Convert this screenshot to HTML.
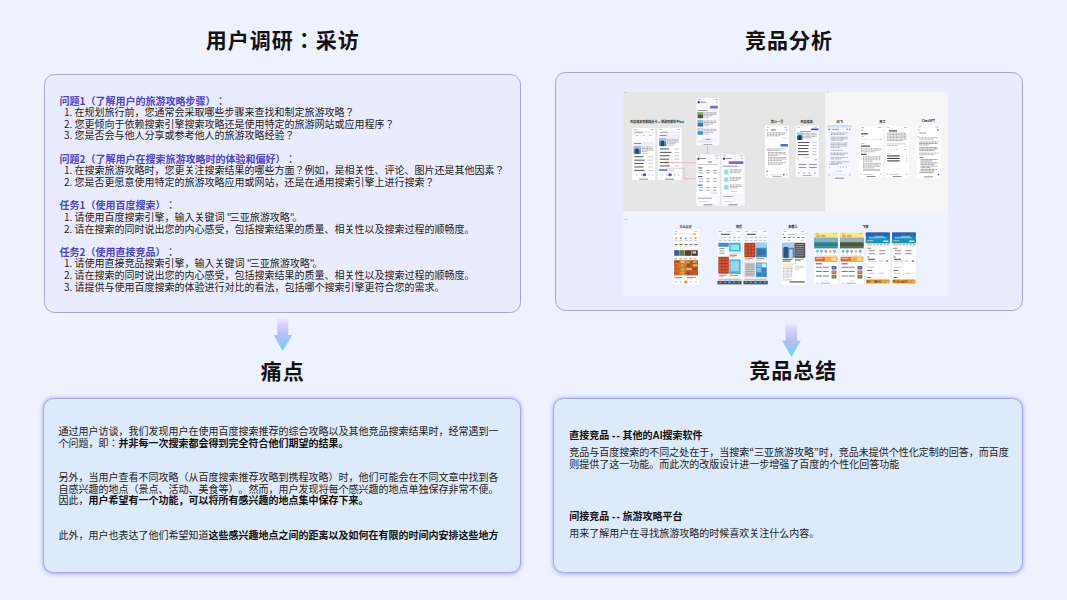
<!DOCTYPE html>
<html>
<head>
<meta charset="utf-8">
<title>用户调研与竞品分析</title>
<style>
html,body{margin:0;padding:0;}
body{width:1067px;height:600px;overflow:hidden;position:relative;background:#eef2fe;
  font-family:"Liberation Sans","Noto Sans CJK JP",sans-serif;color:#111;text-spacing-trim:space-all;}
.abs{position:absolute;}
.title{position:absolute;font-weight:700;font-size:21px;letter-spacing:1px;line-height:32px;color:#111;white-space:nowrap;text-align:center;}
.card{position:absolute;box-sizing:border-box;border-radius:10.5px;}
.card.top{background:#e9ecfe;border:1.5px solid #a6a5d9;}
.card.bot{background:#ddeafb;border:1.5px solid #a6a6ea;box-shadow:0 .5px 4.5px 0 rgba(125,115,245,.62);}
.q{position:absolute;left:59.5px;font-family:"Noto Sans CJK JP",sans-serif;font-size:10px;line-height:11.65px;white-space:nowrap;color:#1c1c1c;}
.q b{color:#4b43cc;font-weight:700;display:block;}
.q span{display:block;padding-left:4.5px;}
.q i{font-style:normal;letter-spacing:-1.9px;}
.p{position:absolute;font-size:10px;line-height:11.6px;white-space:nowrap;color:#1c1c1c;}
.p b{font-weight:700;color:#111;}
.p s{text-decoration:none;font-family:"Noto Sans CJK JP",sans-serif;line-height:0;}
.p u{text-decoration:none;letter-spacing:1.1px;}
</style>
</head>
<body>

<div class="title" style="left:182.7px;width:200px;top:25.0px;">用户调研：采访</div>
<div class="title" style="left:688.9px;width:200px;top:25.0px;">竞品分析</div>

<div class="card top" style="left:44.3px;top:74.1px;width:477px;height:239.2px;"></div>
<div class="card top" style="left:555px;top:72.1px;width:468px;height:239.2px;"></div>

<div class="q" style="top:94.5px;"><b>问题1（了解用户的旅游攻略步骤）：</b><span>1. 在规划旅行前，您通常会采取哪些步骤来查找和制定旅游攻略？</span><span>2. 您更倾向于依赖搜索引擎搜索攻略还是使用特定的旅游网站或应用程序？</span><span>3. 您是否会与他人分享或参考他人的旅游攻略经验？</span></div>
<div class="q" style="top:152.7px;"><b>问题2（了解用户在搜索旅游攻略时的体验和偏好）：</b><span>1. 在搜索旅游攻略时，您更关注搜索结果的哪些方面？例如，是相关性、评论、图片还是其他因素？</span><span>2. 您是否更愿意使用特定的旅游攻略应用或网站，还是在通用搜索引擎上进行搜索？</span></div>
<div class="q" style="top:199.4px;"><b>任务1（使用百度搜索）：</b><span>1. 请使用百度搜索引擎，输入关键词 <i>&quot;</i>三亚旅游攻略<i>&quot;</i>。</span><span>2. 请在搜索的同时说出您的内心感受，包括搜索结果的质量、相关性以及搜索过程的顺畅度。</span></div>
<div class="q" style="top:245.8px;"><b>任务2（使用直接竞品）：</b><span>1. 请使用直接竞品搜索引擎，输入关键词 <i>&quot;</i>三亚旅游攻略<i>&quot;</i>。</span><span>2. 请在搜索的同时说出您的内心感受，包括搜索结果的质量、相关性以及搜索过程的顺畅度。</span><span>3. 请提供与使用百度搜索的体验进行对比的看法，包括哪个搜索引擎更符合您的需求。</span></div>

<svg class="abs" style="left:623px;top:91px;" width="326" height="206" viewBox="623 91 326 206" font-family="'Liberation Sans','Noto Sans CJK JP',sans-serif">
<rect x="623.5" y="91.7" width="201.8" height="119.8" fill="#e6e6e6"/>
<rect x="825.3" y="91.7" width="122.6" height="119.8" fill="#f6f6f6"/>
<rect x="623.2" y="211.4" width="324.6" height="5.6" fill="#f1f4fe"/>
<rect x="623.2" y="217.0" width="324.6" height="79.0" fill="#eef2fe"/>
<rect x="624.3" y="92.3" width="2.5" height="0.5" fill="#888" opacity="0.6"/>
<rect x="826.3" y="92.3" width="2.5" height="0.5" fill="#888" opacity="0.6"/>
<rect x="624.3" y="219.2" width="3.8" height="0.5" fill="#778" opacity="0.6"/>
<text x="657.0" y="123.3" font-size="3.05" font-weight="700" fill="#222" text-anchor="middle">百度搜索智能精选卡 + 旅游智能助手bot</text>
<rect x="632.1" y="128.0" width="23.2" height="52.0" fill="#fdfdff" rx="0.8"/>
<rect x="633.6" y="129.2" width="3.0" height="0.6" fill="#666" opacity="0.6"/>
<rect x="650.3" y="129.2" width="3.5" height="0.6" fill="#666" opacity="0.6"/>
<rect x="639.2" y="178.7" width="9.0" height="0.7" fill="#444" rx="0.3" opacity="0.8"/>
<rect x="633.6" y="131.2" width="20.2" height="2.2" fill="#f0f1f6" rx="1"/>
<rect x="634.6" y="131.9" width="8.0" height="0.7" fill="#555" opacity="0.7"/>
<rect x="636.1" y="135.0" width="2.2" height="1.0" fill="#888" opacity="0.5"/>
<rect x="642.6" y="135.0" width="2.2" height="1.0" fill="#888" opacity="0.5"/>
<rect x="649.1" y="135.0" width="2.2" height="1.0" fill="#888" opacity="0.5"/>
<rect x="633.3" y="142.1" width="20.8" height="3.4" fill="#eeeefc" rx="0.6"/>
<rect x="634.1" y="143.0" width="7.0" height="0.7" fill="#444" opacity="0.8"/>
<rect x="633.6" y="146.3" width="7.2" height="7.6" fill="#5d86b5"/>
<rect x="633.6" y="146.3" width="7.2" height="3.0" fill="#9cc3ea"/>
<rect x="635.3" y="148.5" width="3.2" height="5.4" fill="#2f4664"/>
<path d="M641.7 146.95h10.9M641.7 148.50h10.7M641.7 150.05h11.3M641.7 151.60h5.6" stroke="#333" stroke-width="0.7" stroke-dasharray="1.17 0.37 0.62 0.40" opacity="0.66" fill="none"/>
<rect x="641.7" y="152.9" width="6.0" height="0.6" fill="#999" opacity="0.7"/>
<rect x="634.3" y="156.3" width="9.1" height="0.9" fill="#222" opacity="0.85"/>
<rect x="648.3" y="156.4" width="4.5" height="0.7" fill="#888" opacity="0.6"/>
<rect x="634.3" y="159.7" width="10.3" height="0.9" fill="#222" opacity="0.85"/>
<rect x="648.3" y="159.8" width="4.5" height="0.7" fill="#888" opacity="0.6"/>
<rect x="634.3" y="163.1" width="9.2" height="0.9" fill="#222" opacity="0.85"/>
<rect x="648.3" y="163.2" width="4.5" height="0.7" fill="#888" opacity="0.6"/>
<rect x="634.3" y="166.5" width="9.3" height="0.9" fill="#222" opacity="0.85"/>
<rect x="648.3" y="166.6" width="4.5" height="0.7" fill="#888" opacity="0.6"/>
<rect x="634.3" y="169.9" width="10.3" height="0.9" fill="#222" opacity="0.85"/>
<rect x="648.3" y="170.0" width="4.5" height="0.7" fill="#888" opacity="0.6"/>
<rect x="636.0" y="174.3" width="1.2" height="1.2" fill="#999" opacity="0.6"/>
<rect x="641.0" y="174.3" width="1.2" height="1.2" fill="#999" opacity="0.6"/>
<rect x="642.6" y="173.3" width="3.6" height="3.0" fill="#4e5bd8" rx="1.5"/>
<rect x="648.5" y="174.3" width="1.2" height="1.2" fill="#999" opacity="0.6"/>
<rect x="652.0" y="174.3" width="1.2" height="1.2" fill="#999" opacity="0.6"/>
<rect x="657.6" y="128.0" width="24.0" height="52.0" fill="#fdfdff" rx="0.8"/>
<rect x="659.1" y="129.2" width="3.0" height="0.6" fill="#666" opacity="0.6"/>
<rect x="676.6" y="129.2" width="3.5" height="0.6" fill="#666" opacity="0.6"/>
<rect x="665.1" y="178.7" width="9.0" height="0.7" fill="#444" rx="0.3" opacity="0.8"/>
<rect x="659.1" y="131.2" width="21.0" height="2.2" fill="#f0f1f6" rx="1"/>
<rect x="660.1" y="131.9" width="8.0" height="0.7" fill="#555" opacity="0.7"/>
<rect x="661.6" y="135.0" width="2.2" height="1.0" fill="#888" opacity="0.5"/>
<rect x="668.1" y="135.0" width="2.2" height="1.0" fill="#888" opacity="0.5"/>
<rect x="674.6" y="135.0" width="2.2" height="1.0" fill="#888" opacity="0.5"/>
<rect x="658.8" y="134.3" width="21.6" height="3.4" fill="#eeeefc" rx="0.6"/>
<rect x="659.6" y="135.2" width="7.0" height="0.7" fill="#444" opacity="0.8"/>
<rect x="659.1" y="138.5" width="7.2" height="7.6" fill="#5d86b5"/>
<rect x="659.1" y="138.5" width="7.2" height="3.0" fill="#9cc3ea"/>
<rect x="660.8" y="140.7" width="3.2" height="5.4" fill="#2f4664"/>
<path d="M667.2 139.15h12.3M667.2 140.70h11.4M667.2 142.25h11.5M667.2 143.80h8.4" stroke="#333" stroke-width="0.7" stroke-dasharray="1.37 0.42 0.76 0.50" opacity="0.66" fill="none"/>
<rect x="667.2" y="145.1" width="6.0" height="0.6" fill="#999" opacity="0.7"/>
<rect x="659.8" y="148.5" width="9.1" height="0.9" fill="#222" opacity="0.85"/>
<rect x="674.6" y="148.6" width="4.5" height="0.7" fill="#888" opacity="0.6"/>
<rect x="659.8" y="151.9" width="11.6" height="0.9" fill="#222" opacity="0.85"/>
<rect x="674.6" y="152.0" width="4.5" height="0.7" fill="#888" opacity="0.6"/>
<rect x="659.8" y="155.3" width="9.9" height="0.9" fill="#222" opacity="0.85"/>
<rect x="674.6" y="155.4" width="4.5" height="0.7" fill="#888" opacity="0.6"/>
<rect x="659.8" y="158.7" width="9.4" height="0.9" fill="#222" opacity="0.85"/>
<rect x="674.6" y="158.8" width="4.5" height="0.7" fill="#888" opacity="0.6"/>
<rect x="659.8" y="162.1" width="9.4" height="0.9" fill="#222" opacity="0.85"/>
<rect x="674.6" y="162.2" width="4.5" height="0.7" fill="#888" opacity="0.6"/>
<rect x="659.8" y="165.5" width="9.9" height="0.9" fill="#222" opacity="0.85"/>
<rect x="674.6" y="165.6" width="4.5" height="0.7" fill="#888" opacity="0.6"/>
<rect x="659.0" y="169.2" width="8.5" height="1.6" fill="#5b63dd" rx="0.5"/>
<rect x="668.2" y="169.2" width="6.0" height="1.6" fill="#d9dcf8" rx="0.5"/>
<rect x="661.5" y="174.3" width="1.2" height="1.2" fill="#999" opacity="0.6"/>
<rect x="666.0" y="174.3" width="1.2" height="1.2" fill="#999" opacity="0.6"/>
<rect x="668.2" y="173.3" width="3.6" height="3.0" fill="#4e5bd8" rx="1.5"/>
<rect x="674.0" y="174.3" width="1.2" height="1.2" fill="#999" opacity="0.6"/>
<rect x="678.0" y="174.3" width="1.2" height="1.2" fill="#999" opacity="0.6"/>
<path d="M668 162.6 H671.5 L673 161.4 V163.8 L671.5 162.6 M673 162.6 H707.6 V145.4" fill="none" stroke="#e58aa6" stroke-width="0.45"/>
<path d="M666 168.2 H684.2 V178.8 H696" fill="none" stroke="#e58aa6" stroke-width="0.45"/>
<rect x="665.2" y="160.9" width="3.6" height="3.2" fill="none" rx="0.4" stroke="#e58aa6" stroke-width=".4"/>
<rect x="696.3" y="97.9" width="23.2" height="47.3" fill="#f7f7fe" rx="0.8"/>
<rect x="697.8" y="99.1" width="3.0" height="0.6" fill="#666" opacity="0.6"/>
<rect x="714.5" y="99.1" width="3.5" height="0.6" fill="#666" opacity="0.6"/>
<rect x="703.4" y="143.9" width="9.0" height="0.7" fill="#444" rx="0.3" opacity="0.8"/>
<rect x="697.7" y="101.2" width="2.0" height="2.0" fill="#2b3a55" rx="0.4"/>
<rect x="700.3" y="101.8" width="6.0" height="0.7" fill="#333" opacity="0.8"/>
<rect x="716.0" y="101.8" width="1.6" height="0.7" fill="#666" opacity="0.6"/>
<rect x="710.0" y="105.8" width="8.0" height="2.6" fill="#7a63e6" rx="1.2"/>
<rect x="697.5" y="110.2" width="10.0" height="0.7" fill="#444" opacity="0.7"/>
<rect x="697.6" y="112.0" width="5.6" height="6.2" fill="#4a5a35"/>
<rect x="697.6" y="112.0" width="5.6" height="2.6" fill="#9ab36a"/>
<path d="M704.2 112.75h12.8M704.2 114.25h11.9M704.2 115.75h8.5" stroke="#333" stroke-width="0.7" stroke-dasharray="1.22 0.37 0.82 0.31" opacity="0.61" fill="none"/>
<rect x="704.2" y="117.2" width="5.0" height="0.6" fill="#999" opacity="0.7"/>
<rect x="697.6" y="120.3" width="5.6" height="6.2" fill="#3f7aa8"/>
<rect x="697.6" y="120.3" width="5.6" height="2.6" fill="#8cc2e8"/>
<path d="M704.2 121.05h11.8M704.2 122.55h12.0M704.2 124.05h8.9" stroke="#333" stroke-width="0.7" stroke-dasharray="1.11 0.36 0.83 0.39" opacity="0.61" fill="none"/>
<rect x="704.2" y="125.5" width="5.0" height="0.6" fill="#999" opacity="0.7"/>
<rect x="697.6" y="128.6" width="5.6" height="6.2" fill="#4f8ec4"/>
<rect x="697.6" y="128.6" width="5.6" height="2.6" fill="#bcdcf3"/>
<path d="M704.2 129.35h12.1M704.2 130.85h12.7M704.2 132.35h9.0" stroke="#333" stroke-width="0.7" stroke-dasharray="1.02 0.41 0.81 0.48" opacity="0.61" fill="none"/>
<rect x="704.2" y="133.8" width="5.0" height="0.6" fill="#999" opacity="0.7"/>
<rect x="702.0" y="138.2" width="12.0" height="2.4" fill="#ecebfb" rx="1.1"/>
<rect x="705.5" y="139.0" width="5.0" height="0.7" fill="#6b63d8" opacity="0.8"/>
<rect x="698.0" y="141.6" width="14.0" height="0.6" fill="#aaa" opacity="0.6"/>
<rect x="696.0" y="154.4" width="24.0" height="51.4" fill="#f8f8fe" rx="0.8"/>
<rect x="697.5" y="155.6" width="3.0" height="0.6" fill="#666" opacity="0.6"/>
<rect x="715.0" y="155.6" width="3.5" height="0.6" fill="#666" opacity="0.6"/>
<rect x="703.5" y="204.5" width="9.0" height="0.7" fill="#444" rx="0.3" opacity="0.8"/>
<rect x="697.4" y="157.7" width="2.0" height="2.0" fill="#2b3a55" rx="0.4"/>
<rect x="700.0" y="158.3" width="6.0" height="0.7" fill="#333" opacity="0.8"/>
<rect x="716.5" y="158.3" width="1.6" height="0.7" fill="#666" opacity="0.6"/>
<rect x="697.2" y="160.8" width="21.6" height="34.0" fill="#ffffff" rx="0.6"/>
<rect x="708.0" y="161.6" width="4.0" height="0.8" fill="#333" opacity="0.8"/>
<rect x="698.0" y="164.2" width="20.0" height="0.6" fill="#777" opacity="0.6"/>
<rect x="698.0" y="167.5" width="4.5" height="0.9" fill="#222" opacity="0.85"/>
<rect x="698.6" y="169.6" width="4.6" height="1.5" fill="#e8ecfb" rx="0.4"/>
<rect x="699.4" y="170.0" width="3.0" height="0.6" fill="#556" opacity="0.7"/>
<rect x="705.6" y="169.6" width="4.6" height="1.5" fill="#e8ecfb" rx="0.4"/>
<rect x="706.4" y="170.0" width="3.0" height="0.6" fill="#556" opacity="0.7"/>
<rect x="712.6" y="169.6" width="4.6" height="1.5" fill="#e8ecfb" rx="0.4"/>
<rect x="713.4" y="170.0" width="3.0" height="0.6" fill="#556" opacity="0.7"/>
<rect x="698.6" y="172.3" width="4.6" height="1.5" fill="#e8ecfb" rx="0.4"/>
<rect x="699.4" y="172.7" width="3.0" height="0.6" fill="#556" opacity="0.7"/>
<rect x="705.6" y="172.3" width="4.6" height="1.5" fill="#e8ecfb" rx="0.4"/>
<rect x="706.4" y="172.7" width="3.0" height="0.6" fill="#556" opacity="0.7"/>
<rect x="712.6" y="172.3" width="4.6" height="1.5" fill="#e8ecfb" rx="0.4"/>
<rect x="713.4" y="172.7" width="3.0" height="0.6" fill="#556" opacity="0.7"/>
<rect x="698.0" y="176.1" width="4.5" height="0.9" fill="#222" opacity="0.85"/>
<rect x="698.6" y="178.2" width="4.6" height="1.5" fill="#e8ecfb" rx="0.4"/>
<rect x="699.4" y="178.6" width="3.0" height="0.6" fill="#556" opacity="0.7"/>
<rect x="705.6" y="178.2" width="4.6" height="1.5" fill="#e8ecfb" rx="0.4"/>
<rect x="706.4" y="178.6" width="3.0" height="0.6" fill="#556" opacity="0.7"/>
<rect x="712.6" y="178.2" width="4.6" height="1.5" fill="#e8ecfb" rx="0.4"/>
<rect x="713.4" y="178.6" width="3.0" height="0.6" fill="#556" opacity="0.7"/>
<rect x="698.6" y="180.9" width="4.6" height="1.5" fill="#e8ecfb" rx="0.4"/>
<rect x="699.4" y="181.3" width="3.0" height="0.6" fill="#556" opacity="0.7"/>
<rect x="705.6" y="180.9" width="4.6" height="1.5" fill="#e8ecfb" rx="0.4"/>
<rect x="706.4" y="181.3" width="3.0" height="0.6" fill="#556" opacity="0.7"/>
<rect x="712.6" y="180.9" width="4.6" height="1.5" fill="#e8ecfb" rx="0.4"/>
<rect x="713.4" y="181.3" width="3.0" height="0.6" fill="#556" opacity="0.7"/>
<rect x="698.0" y="184.7" width="4.5" height="0.9" fill="#222" opacity="0.85"/>
<rect x="698.6" y="186.8" width="4.6" height="1.5" fill="#e8ecfb" rx="0.4"/>
<rect x="699.4" y="187.2" width="3.0" height="0.6" fill="#556" opacity="0.7"/>
<rect x="705.6" y="186.8" width="4.6" height="1.5" fill="#e8ecfb" rx="0.4"/>
<rect x="706.4" y="187.2" width="3.0" height="0.6" fill="#556" opacity="0.7"/>
<rect x="712.6" y="186.8" width="4.6" height="1.5" fill="#e8ecfb" rx="0.4"/>
<rect x="713.4" y="187.2" width="3.0" height="0.6" fill="#556" opacity="0.7"/>
<rect x="698.6" y="189.5" width="4.6" height="1.5" fill="#e8ecfb" rx="0.4"/>
<rect x="699.4" y="189.9" width="3.0" height="0.6" fill="#556" opacity="0.7"/>
<rect x="705.6" y="189.5" width="4.6" height="1.5" fill="#e8ecfb" rx="0.4"/>
<rect x="706.4" y="189.9" width="3.0" height="0.6" fill="#556" opacity="0.7"/>
<rect x="712.6" y="189.5" width="4.6" height="1.5" fill="#e8ecfb" rx="0.4"/>
<rect x="713.4" y="189.9" width="3.0" height="0.6" fill="#556" opacity="0.7"/>
<rect x="711.0" y="192.2" width="7.0" height="1.8" fill="#e3e0fb" rx="0.8"/>
<rect x="698.0" y="197.8" width="14.0" height="0.7" fill="#555" opacity="0.7"/>
<rect x="697.5" y="200.6" width="21.0" height="2.2" fill="#ffffff" rx="1"/>
<rect x="699.0" y="201.4" width="9.0" height="0.6" fill="#aaa" opacity="0.7"/>
<rect x="721.5" y="154.4" width="23.3" height="51.4" fill="#f7f7fe" rx="0.8"/>
<rect x="723.0" y="155.6" width="3.0" height="0.6" fill="#666" opacity="0.6"/>
<rect x="739.8" y="155.6" width="3.5" height="0.6" fill="#666" opacity="0.6"/>
<rect x="728.6" y="204.5" width="9.0" height="0.7" fill="#444" rx="0.3" opacity="0.8"/>
<rect x="722.9" y="157.7" width="2.0" height="2.0" fill="#2b3a55" rx="0.4"/>
<rect x="725.5" y="158.3" width="6.0" height="0.7" fill="#333" opacity="0.8"/>
<rect x="741.3" y="158.3" width="1.6" height="0.7" fill="#666" opacity="0.6"/>
<rect x="728.5" y="161.2" width="15.0" height="2.8" fill="#7a63e6" rx="1.3"/>
<rect x="722.8" y="165.8" width="15.0" height="0.7" fill="#444" opacity="0.75"/>
<rect x="722.8" y="168.0" width="20.5" height="25.5" fill="#ffffff" rx="0.6"/>
<rect x="723.6" y="169.2" width="5.2" height="5.6" fill="#c9ecef"/>
<rect x="724.4" y="170.2" width="3.6" height="3.6" fill="#8fd3da" opacity="0.8"/>
<path d="M729.8 169.75h12.2M729.8 171.25h11.6M729.8 172.75h9.9" stroke="#333" stroke-width="0.7" stroke-dasharray="0.96 0.38 0.90 0.33" opacity="0.61" fill="none"/>
<rect x="723.6" y="176.8" width="5.2" height="5.6" fill="#c9ecef"/>
<rect x="724.4" y="177.8" width="3.6" height="3.6" fill="#8fd3da" opacity="0.8"/>
<path d="M729.8 177.35h11.9M729.8 178.85h11.3M729.8 180.35h8.5" stroke="#333" stroke-width="0.7" stroke-dasharray="1.28 0.41 0.95 0.36" opacity="0.61" fill="none"/>
<rect x="723.6" y="184.4" width="5.2" height="5.6" fill="#c9ecef"/>
<rect x="724.4" y="185.4" width="3.6" height="3.6" fill="#8fd3da" opacity="0.8"/>
<path d="M729.8 184.95h12.1M729.8 186.45h12.0M729.8 187.95h8.2" stroke="#333" stroke-width="0.7" stroke-dasharray="1.13 0.47 0.98 0.39" opacity="0.61" fill="none"/>
<rect x="731.0" y="191.2" width="6.0" height="0.7" fill="#888" opacity="0.6"/>
<rect x="723.0" y="196.0" width="10.0" height="0.7" fill="#666" opacity="0.7"/>
<rect x="723.0" y="200.6" width="20.5" height="2.2" fill="#ffffff" rx="1"/>
<rect x="724.5" y="201.4" width="9.0" height="0.6" fill="#aaa" opacity="0.7"/>
<text x="777.0" y="123.3" font-size="3.2" font-weight="700" fill="#222" text-anchor="middle">文心一言</text>
<rect x="765.0" y="125.7" width="24.0" height="52.0" fill="#fdfdff" rx="0.8"/>
<rect x="766.5" y="126.9" width="3.0" height="0.6" fill="#666" opacity="0.6"/>
<rect x="784.0" y="126.9" width="3.5" height="0.6" fill="#666" opacity="0.6"/>
<rect x="772.5" y="176.4" width="9.0" height="0.7" fill="#444" rx="0.3" opacity="0.8"/>
<rect x="766.5" y="129.6" width="1.2" height="1.0" fill="#555" opacity="0.7"/>
<rect x="771.0" y="129.5" width="5.0" height="0.9" fill="#333" opacity="0.8"/>
<rect x="786.0" y="129.6" width="1.4" height="1.0" fill="#555" opacity="0.7"/>
<path d="M766.8 132.75h18.8M766.8 134.30h17.7M766.8 135.85h13.6" stroke="#333" stroke-width="0.7" stroke-dasharray="1.22 0.50 0.93 0.36" opacity="0.61" fill="none"/>
<rect x="782.0" y="137.6" width="5.0" height="0.6" fill="#aaa" opacity="0.6"/>
<rect x="780.4" y="144.0" width="7.6" height="2.6" fill="#4f63e6" rx="0.8"/>
<path d="M766.8 148.95h18.8M766.8 150.45h13.7" stroke="#333" stroke-width="0.7" stroke-dasharray="0.91 0.39 0.67 0.32" opacity="0.61" fill="none"/>
<path d="M768.0 152.55h17.2M768.0 154.05h18.6M768.0 155.55h9.4" stroke="#333" stroke-width="0.7" stroke-dasharray="1.02 0.38 0.95 0.32" opacity="0.61" fill="none"/>
<path d="M768.0 157.55h18.0M768.0 159.05h18.1M768.0 160.55h14.4" stroke="#333" stroke-width="0.7" stroke-dasharray="1.31 0.47 0.71 0.38" opacity="0.61" fill="none"/>
<path d="M768.0 162.75h17.8M768.0 164.25h14.4" stroke="#333" stroke-width="0.7" stroke-dasharray="1.38 0.33 0.67 0.35" opacity="0.61" fill="none"/>
<rect x="766.2" y="170.6" width="1.8" height="1.5" fill="#e660a8" rx="0.5"/>
<rect x="766.4" y="174.3" width="1.2" height="1.0" fill="#777" opacity="0.6"/>
<rect x="769.5" y="174.2" width="10.0" height="1.2" fill="#e4e4ea" rx="0.6"/>
<rect x="783.0" y="174.2" width="1.6" height="1.2" fill="#333" opacity="0.8"/>
<rect x="786.3" y="174.3" width="1.2" height="1.0" fill="#777" opacity="0.6"/>
<text x="806.5" y="123.3" font-size="3.2" font-weight="700" fill="#222" text-anchor="middle">百度搜索</text>
<rect x="795.7" y="125.7" width="23.0" height="51.0" fill="#fdfdff" rx="0.8"/>
<rect x="797.2" y="126.9" width="3.0" height="0.6" fill="#666" opacity="0.6"/>
<rect x="813.7" y="126.9" width="3.5" height="0.6" fill="#666" opacity="0.6"/>
<rect x="802.7" y="175.4" width="9.0" height="0.7" fill="#444" rx="0.3" opacity="0.8"/>
<rect x="811.0" y="128.6" width="7.5" height="1.6" fill="#3b59d9" rx="0.2"/>
<rect x="800.0" y="131.3" width="11.0" height="0.7" fill="#555" opacity="0.7"/>
<rect x="797.0" y="132.8" width="5.6" height="7.2" fill="#3f6ea5"/>
<rect x="797.0" y="132.8" width="5.6" height="2.8" fill="#9ec8ee"/>
<rect x="798.6" y="135.2" width="2.4" height="4.8" fill="#1f3350"/>
<path d="M803.4 133.35h12.9M803.4 134.85h13.3M803.4 136.35h13.4M803.4 137.85h7.6" stroke="#333" stroke-width="0.7" stroke-dasharray="0.90 0.38 0.75 0.41" opacity="0.66" fill="none"/>
<rect x="798.0" y="142.0" width="11.4" height="0.9" fill="#222" opacity="0.85"/>
<rect x="812.5" y="142.1" width="4.0" height="0.7" fill="#888" opacity="0.6"/>
<rect x="798.0" y="145.1" width="10.7" height="0.9" fill="#222" opacity="0.85"/>
<rect x="812.5" y="145.2" width="4.0" height="0.7" fill="#888" opacity="0.6"/>
<rect x="798.0" y="148.1" width="10.3" height="0.9" fill="#222" opacity="0.85"/>
<rect x="812.5" y="148.2" width="4.0" height="0.7" fill="#888" opacity="0.6"/>
<rect x="798.0" y="151.2" width="10.5" height="0.9" fill="#222" opacity="0.85"/>
<rect x="812.5" y="151.2" width="4.0" height="0.7" fill="#888" opacity="0.6"/>
<rect x="798.0" y="154.2" width="10.7" height="0.9" fill="#222" opacity="0.85"/>
<rect x="812.5" y="154.3" width="4.0" height="0.7" fill="#888" opacity="0.6"/>
<rect x="803.0" y="157.2" width="7.0" height="0.6" fill="#aaa" opacity="0.7"/>
<rect x="797.5" y="159.2" width="1.2" height="1.0" fill="#888" opacity="0.6"/>
<rect x="814.0" y="159.2" width="3.0" height="1.0" fill="#888" opacity="0.5"/>
<rect x="797.6" y="163.5" width="9.5" height="1.9" fill="#eef0f8" rx="0.4"/>
<rect x="808.2" y="163.5" width="9.5" height="1.9" fill="#eef0f8" rx="0.4"/>
<rect x="798.6" y="164.1" width="7.5" height="0.7" fill="#445" opacity="0.75"/>
<rect x="809.2" y="164.1" width="7.5" height="0.7" fill="#445" opacity="0.75"/>
<rect x="797.6" y="166.4" width="9.5" height="1.9" fill="#eef0f8" rx="0.4"/>
<rect x="808.2" y="166.4" width="9.5" height="1.9" fill="#eef0f8" rx="0.4"/>
<rect x="798.6" y="167.0" width="7.5" height="0.7" fill="#445" opacity="0.75"/>
<rect x="809.2" y="167.0" width="7.5" height="0.7" fill="#445" opacity="0.75"/>
<rect x="798.0" y="172.5" width="1.4" height="1.2" fill="#667" opacity="0.7"/>
<rect x="803.4" y="172.5" width="1.4" height="1.2" fill="#667" opacity="0.7"/>
<rect x="808.8" y="172.5" width="1.4" height="1.2" fill="#667" opacity="0.7"/>
<rect x="814.2" y="172.5" width="1.4" height="1.2" fill="#667" opacity="0.7"/>
<text x="839.8" y="123.0" font-size="3.2" font-weight="700" fill="#222" text-anchor="middle">讯飞</text>
<rect x="827.2" y="125.0" width="24.6" height="54.0" fill="#f4f7ff" rx="0.8"/>
<rect x="828.7" y="126.2" width="3.0" height="0.6" fill="#666" opacity="0.6"/>
<rect x="846.8" y="126.2" width="3.5" height="0.6" fill="#666" opacity="0.6"/>
<rect x="835.0" y="177.7" width="9.0" height="0.7" fill="#444" rx="0.3" opacity="0.8"/>
<rect x="827.2" y="125.0" width="24.6" height="2.4" fill="#d3dcfb" rx="0.6"/>
<rect x="828.4" y="128.6" width="1.6" height="1.4" fill="#4f63e6" opacity="0.8"/>
<rect x="832.0" y="128.9" width="7.0" height="0.8" fill="#556" opacity="0.7"/>
<rect x="846.5" y="128.7" width="1.3" height="1.2" fill="#556" opacity="0.7"/>
<rect x="849.0" y="128.7" width="1.3" height="1.2" fill="#556" opacity="0.7"/>
<path d="M830.8 132.95h16.7M830.8 134.45h14.1" stroke="#333" stroke-width="0.7" stroke-dasharray="1.29 0.47 0.92 0.38" opacity="0.61" fill="none"/>
<path d="M830.8 137.25h17.4M830.8 138.75h16.8M830.8 140.25h12.4" stroke="#333" stroke-width="0.7" stroke-dasharray="0.93 0.31 0.68 0.33" opacity="0.61" fill="none"/>
<path d="M830.8 143.05h17.3M830.8 144.55h16.7M830.8 146.05h16.7M830.8 147.55h9.3" stroke="#333" stroke-width="0.7" stroke-dasharray="0.95 0.37 0.61 0.47" opacity="0.61" fill="none"/>
<path d="M830.8 150.35h12.3" stroke="#333" stroke-width="0.7" stroke-dasharray="0.97 0.35 0.74 0.37" opacity="0.61" fill="none"/>
<path d="M830.8 153.15h16.9M830.8 154.65h13.8" stroke="#333" stroke-width="0.7" stroke-dasharray="1.40 0.39 0.79 0.32" opacity="0.61" fill="none"/>
<path d="M830.8 157.45h16.8M830.8 158.95h10.5" stroke="#333" stroke-width="0.7" stroke-dasharray="1.03 0.47 0.66 0.30" opacity="0.61" fill="none"/>
<path d="M830.8 161.75h18.4M830.8 163.25h11.7" stroke="#333" stroke-width="0.7" stroke-dasharray="0.97 0.41 0.61 0.41" opacity="0.61" fill="none"/>
<rect x="829.0" y="163.8" width="9.0" height="0.7" fill="#667" opacity="0.7"/>
<rect x="829.0" y="166.8" width="1.0" height="1.0" fill="#99a" opacity="0.6"/>
<rect x="840.0" y="166.8" width="1.0" height="1.0" fill="#99a" opacity="0.6"/>
<rect x="843.0" y="166.8" width="1.0" height="1.0" fill="#99a" opacity="0.6"/>
<rect x="846.0" y="166.8" width="1.0" height="1.0" fill="#99a" opacity="0.6"/>
<rect x="836.0" y="170.8" width="6.0" height="0.8" fill="#aab" opacity="0.6"/>
<rect x="828.5" y="174.2" width="1.3" height="1.2" fill="#889" opacity="0.6"/>
<rect x="832.0" y="174.2" width="14.0" height="1.3" fill="#e6ebfb" rx="0.6"/>
<rect x="849.0" y="174.2" width="1.3" height="1.2" fill="#889" opacity="0.6"/>
<text x="882.5" y="123.0" font-size="3.2" font-weight="700" fill="#222" text-anchor="middle">天工</text>
<rect x="859.5" y="126.0" width="23.3" height="51.5" fill="#ffffff" rx="0.8"/>
<rect x="861.0" y="127.2" width="3.0" height="0.6" fill="#666" opacity="0.6"/>
<rect x="877.8" y="127.2" width="3.5" height="0.6" fill="#666" opacity="0.6"/>
<rect x="866.6" y="176.2" width="9.0" height="0.7" fill="#444" rx="0.3" opacity="0.8"/>
<rect x="861.5" y="129.8" width="1.2" height="1.0" fill="#666" opacity="0.7"/>
<rect x="861.0" y="133.4" width="7.0" height="1.0" fill="#111" opacity="0.9"/>
<rect x="861.0" y="136.2" width="3.0" height="0.6" fill="#888" opacity="0.7"/>
<rect x="861.0" y="138.6" width="8.5" height="1.4" fill="#eee" rx="0.3"/>
<rect x="870.5" y="138.6" width="7.0" height="1.4" fill="#eee" rx="0.3"/>
<rect x="879.5" y="138.8" width="1.4" height="1.1" fill="#777" opacity="0.6"/>
<rect x="861.0" y="143.4" width="3.5" height="0.6" fill="#777" opacity="0.7"/>
<rect x="861.0" y="145.6" width="9.0" height="1.0" fill="#111" opacity="0.9"/>
<path d="M861.0 148.75h20.5M861.0 150.25h20.2M861.0 151.75h14.2" stroke="#333" stroke-width="0.7" stroke-dasharray="1.03 0.37 0.67 0.45" opacity="0.61" fill="none"/>
<rect x="861.0" y="153.8" width="5.5" height="1.0" fill="#111" opacity="0.9"/>
<path d="M863.0 156.75h17.6M863.0 158.25h18.1M863.0 159.75h17.3M863.0 161.25h9.8" stroke="#333" stroke-width="0.7" stroke-dasharray="1.31 0.50 0.94 0.46" opacity="0.61" fill="none"/>
<path d="M863.0 163.35h18.2M863.0 164.85h18.0M863.0 166.35h17.1M863.0 167.85h11.7" stroke="#333" stroke-width="0.7" stroke-dasharray="1.08 0.31 0.61 0.36" opacity="0.61" fill="none"/>
<rect x="863.0" y="169.6" width="17.0" height="0.7" fill="#333" opacity="0.75"/>
<rect x="860.5" y="173.8" width="1.2" height="1.1" fill="#889" opacity="0.6"/>
<rect x="863.5" y="173.9" width="9.0" height="0.9" fill="#99a" opacity="0.6"/>
<rect x="880.0" y="173.8" width="1.2" height="1.1" fill="#889" opacity="0.6"/>
<rect x="885.2" y="126.0" width="23.8" height="51.5" fill="#ffffff" rx="0.8"/>
<rect x="886.7" y="127.2" width="3.0" height="0.6" fill="#666" opacity="0.6"/>
<rect x="904.0" y="127.2" width="3.5" height="0.6" fill="#666" opacity="0.6"/>
<rect x="892.6" y="176.2" width="9.0" height="0.7" fill="#444" rx="0.3" opacity="0.8"/>
<rect x="889.0" y="130.4" width="8.0" height="1.0" fill="#111" opacity="0.9"/>
<path d="M887.2 133.15h18.5M887.2 134.65h19.4M887.2 136.15h19.9M887.2 137.65h18.9M887.2 139.15h19.9M887.2 140.65h15.9" stroke="#333" stroke-width="0.7" stroke-dasharray="1.38 0.37 0.69 0.35" opacity="0.64" fill="none"/>
<path d="M887.2 143.95h18.4M887.2 145.45h10.4" stroke="#555" stroke-width="0.7" stroke-dasharray="1.21 0.48 0.94 0.40" opacity="0.57" fill="none"/>
<rect x="887.4" y="149.0" width="1.2" height="1.0" fill="#aab" opacity="0.6"/>
<rect x="890.4" y="149.0" width="1.2" height="1.0" fill="#aab" opacity="0.6"/>
<rect x="893.4" y="149.0" width="1.2" height="1.0" fill="#aab" opacity="0.6"/>
<rect x="896.4" y="149.0" width="1.2" height="1.0" fill="#aab" opacity="0.6"/>
<rect x="904.0" y="149.0" width="2.6" height="1.0" fill="#aab" opacity="0.6"/>
<rect x="887.2" y="153.0" width="3.5" height="0.6" fill="#888" opacity="0.7"/>
<rect x="887.2" y="155.4" width="12.5" height="1.0" fill="#111" opacity="0.88"/>
<rect x="906.2" y="155.5" width="0.9" height="0.9" fill="#889" opacity="0.6"/>
<rect x="887.2" y="157.9" width="12.5" height="1.0" fill="#111" opacity="0.88"/>
<rect x="906.2" y="158.0" width="0.9" height="0.9" fill="#889" opacity="0.6"/>
<rect x="887.2" y="160.4" width="12.5" height="1.0" fill="#111" opacity="0.88"/>
<rect x="906.2" y="160.5" width="0.9" height="0.9" fill="#889" opacity="0.6"/>
<rect x="886.5" y="173.8" width="1.2" height="1.1" fill="#889" opacity="0.6"/>
<rect x="889.5" y="173.9" width="9.0" height="0.9" fill="#99a" opacity="0.6"/>
<rect x="906.0" y="173.8" width="1.2" height="1.1" fill="#889" opacity="0.6"/>
<text x="928.3" y="122.2" font-size="3.1" font-weight="700" fill="#222" text-anchor="middle">ChatGPT</text>
<rect x="916.7" y="125.5" width="23.7" height="52.3" fill="#ffffff" rx="0.8"/>
<rect x="918.2" y="126.7" width="3.0" height="0.6" fill="#666" opacity="0.6"/>
<rect x="935.4" y="126.7" width="3.5" height="0.6" fill="#666" opacity="0.6"/>
<rect x="924.1" y="176.5" width="9.0" height="0.7" fill="#444" rx="0.3" opacity="0.8"/>
<rect x="918.2" y="129.4" width="1.2" height="1.0" fill="#555" opacity="0.7"/>
<rect x="937.0" y="129.4" width="1.8" height="1.2" fill="#333" opacity="0.8"/>
<rect x="919.2" y="132.6" width="7.0" height="0.8" fill="#555" opacity="0.7"/>
<rect x="917.6" y="136.0" width="1.0" height="1.0" fill="#6a7fe0" opacity="0.8"/>
<path d="M919.4 137.75h18.8M919.4 139.25h14.2" stroke="#333" stroke-width="0.7" stroke-dasharray="0.94 0.43 0.96 0.46" opacity="0.64" fill="none"/>
<path d="M919.4 141.97h19.0M919.4 143.47h18.5M919.4 144.97h10.0" stroke="#222" stroke-width="0.75" stroke-dasharray="1.29 0.37 0.92 0.49" opacity="0.67" fill="none"/>
<path d="M919.4 147.57h18.3M919.4 149.07h18.3M919.4 150.57h15.2" stroke="#222" stroke-width="0.75" stroke-dasharray="1.26 0.33 0.65 0.33" opacity="0.67" fill="none"/>
<path d="M919.4 153.15h19.3M919.4 154.65h14.3" stroke="#333" stroke-width="0.7" stroke-dasharray="0.97 0.47 0.99 0.43" opacity="0.64" fill="none"/>
<rect x="919.4" y="157.0" width="4.0" height="0.7" fill="#333" opacity="0.8"/>
<path d="M920.6 159.57h17.0M920.6 161.02h11.7" stroke="#222" stroke-width="0.75" stroke-dasharray="0.97 0.30 0.99 0.43" opacity="0.67" fill="none"/>
<path d="M920.6 162.88h17.3M920.6 164.32h14.1" stroke="#222" stroke-width="0.75" stroke-dasharray="1.12 0.47 0.93 0.34" opacity="0.67" fill="none"/>
<path d="M920.6 166.17h16.8M920.6 167.62h10.1" stroke="#222" stroke-width="0.75" stroke-dasharray="1.02 0.42 0.70 0.38" opacity="0.67" fill="none"/>
<path d="M920.6 169.47h16.6M920.6 170.92h14.0" stroke="#222" stroke-width="0.75" stroke-dasharray="1.08 0.39 0.83 0.48" opacity="0.67" fill="none"/>
<rect x="919.4" y="172.4" width="14.0" height="0.7" fill="#444" opacity="0.7"/>
<rect x="937.6" y="173.6" width="1.8" height="1.8" fill="#5a5fd8" rx="0.9"/>
<text x="685.6" y="228.0" font-size="3.0" font-weight="700" fill="#222" text-anchor="middle">大众点评</text>
<rect x="673.0" y="229.8" width="26.0" height="54.6" fill="#ffffff" rx="0.8"/>
<rect x="674.5" y="231.0" width="3.0" height="0.6" fill="#666" opacity="0.6"/>
<rect x="694.0" y="231.0" width="3.5" height="0.6" fill="#d98a3a" opacity="0.7"/>
<rect x="674.6" y="233.2" width="1.6" height="1.2" fill="#e8782a" opacity="0.8"/>
<rect x="678.0" y="233.0" width="17.0" height="1.9" fill="#fdf1e6" rx="0.9"/>
<rect x="693.2" y="233.2" width="2.6" height="1.5" fill="#f08a2c" rx="0.7"/>
<rect x="675.0" y="237.2" width="2.2" height="2.2" fill="#f2a23a" rx="1.1" opacity="0.85"/>
<rect x="674.4" y="240.4" width="3.4" height="0.6" fill="#666" opacity="0.5"/>
<rect x="679.9" y="237.2" width="2.2" height="2.2" fill="#3f97c9" rx="1.1" opacity="0.85"/>
<rect x="679.3" y="240.4" width="3.4" height="0.6" fill="#666" opacity="0.5"/>
<rect x="684.8" y="237.2" width="2.2" height="2.2" fill="#4fb0c6" rx="1.1" opacity="0.85"/>
<rect x="684.2" y="240.4" width="3.4" height="0.6" fill="#666" opacity="0.5"/>
<rect x="689.7" y="237.2" width="2.2" height="2.2" fill="#f3b13c" rx="1.1" opacity="0.85"/>
<rect x="689.1" y="240.4" width="3.4" height="0.6" fill="#666" opacity="0.5"/>
<rect x="694.6" y="237.2" width="2.2" height="2.2" fill="#f08a2c" rx="1.1" opacity="0.85"/>
<rect x="694.0" y="240.4" width="3.4" height="0.6" fill="#666" opacity="0.5"/>
<rect x="674.6" y="244.1" width="3.2" height="1.0" fill="#222" opacity="0.7"/>
<rect x="675.4" y="246.2" width="1.4" height="0.8" fill="#e38b42" opacity="0.6"/>
<rect x="679.5" y="244.1" width="3.2" height="1.0" fill="#222" opacity="0.7"/>
<rect x="680.3" y="246.2" width="1.4" height="0.8" fill="#e38b42" opacity="0.6"/>
<rect x="684.4" y="244.1" width="3.2" height="1.0" fill="#222" opacity="0.7"/>
<rect x="685.2" y="246.2" width="1.4" height="0.8" fill="#e38b42" opacity="0.6"/>
<rect x="689.3" y="244.1" width="3.2" height="1.0" fill="#222" opacity="0.7"/>
<rect x="690.1" y="246.2" width="1.4" height="0.8" fill="#e38b42" opacity="0.6"/>
<rect x="694.2" y="244.1" width="3.2" height="1.0" fill="#222" opacity="0.7"/>
<rect x="695.0" y="246.2" width="1.4" height="0.8" fill="#e38b42" opacity="0.6"/>
<rect x="674.2" y="250.2" width="5.4" height="5.6" fill="#3a5e8c"/>
<rect x="679.9" y="250.2" width="4.6" height="5.6" fill="#5b7f4a"/>
<rect x="684.8" y="250.2" width="6.4" height="5.6" fill="#5a3d2b"/>
<rect x="691.5" y="250.2" width="6.3" height="5.6" fill="#3e3a36"/>
<rect x="692.5" y="251.2" width="3.6" height="2.4" fill="#e9e6e0" opacity="0.8"/>
<rect x="674.4" y="258.4" width="2.6" height="0.8" fill="#555" opacity="0.7"/>
<rect x="679.3" y="258.4" width="2.6" height="0.8" fill="#555" opacity="0.7"/>
<rect x="684.2" y="258.4" width="2.6" height="0.8" fill="#555" opacity="0.7"/>
<rect x="689.1" y="258.4" width="2.6" height="0.8" fill="#555" opacity="0.7"/>
<rect x="694.0" y="258.4" width="2.6" height="0.8" fill="#555" opacity="0.7"/>
<rect x="674.0" y="260.2" width="12.0" height="15.2" fill="#c9772a"/>
<rect x="686.2" y="260.2" width="11.8" height="15.2" fill="#b8572a"/>
<rect x="674.8" y="260.6" width="4.8" height="2.2" fill="#a8431f" opacity="0.9"/>
<rect x="674.5" y="264.3" width="3.0" height="2.5" fill="#d9542e" opacity="0.9"/>
<rect x="674.6" y="268.0" width="4.6" height="2.2" fill="#d9542e" opacity="0.9"/>
<rect x="674.5" y="271.7" width="4.5" height="2.7" fill="#d9542e" opacity="0.9"/>
<rect x="680.7" y="260.6" width="4.1" height="2.6" fill="#f0c46a" opacity="0.9"/>
<rect x="680.9" y="264.3" width="3.1" height="2.2" fill="#e0a246" opacity="0.9"/>
<rect x="680.8" y="268.0" width="4.0" height="2.7" fill="#e0a246" opacity="0.9"/>
<rect x="680.4" y="271.7" width="4.2" height="2.6" fill="#e0a246" opacity="0.9"/>
<rect x="686.2" y="260.6" width="3.6" height="2.6" fill="#e98b3a" opacity="0.9"/>
<rect x="686.5" y="264.3" width="3.5" height="2.6" fill="#a8431f" opacity="0.9"/>
<rect x="686.9" y="268.0" width="4.8" height="2.2" fill="#f0c46a" opacity="0.9"/>
<rect x="686.1" y="271.7" width="3.2" height="2.5" fill="#a8431f" opacity="0.9"/>
<rect x="692.7" y="260.6" width="3.9" height="2.3" fill="#e0a246" opacity="0.9"/>
<rect x="692.8" y="264.3" width="4.8" height="2.2" fill="#f0c46a" opacity="0.9"/>
<rect x="692.6" y="268.0" width="3.7" height="2.3" fill="#c8352a" opacity="0.9"/>
<rect x="693.0" y="271.7" width="3.4" height="3.1" fill="#d9542e" opacity="0.9"/>
<rect x="674.4" y="277.0" width="8.0" height="0.7" fill="#444" opacity="0.75"/>
<rect x="687.0" y="277.0" width="9.0" height="0.7" fill="#444" opacity="0.75"/>
<rect x="674.4" y="278.6" width="6.0" height="0.6" fill="#888" opacity="0.6"/>
<rect x="687.0" y="278.6" width="6.0" height="0.6" fill="#888" opacity="0.6"/>
<rect x="675.0" y="281.4" width="1.6" height="1.3" fill="#999" opacity="0.6"/>
<rect x="680.0" y="281.4" width="1.6" height="1.3" fill="#999" opacity="0.6"/>
<rect x="685.0" y="281.4" width="1.6" height="1.3" fill="#999" opacity="0.6"/>
<rect x="690.0" y="281.4" width="1.6" height="1.3" fill="#999" opacity="0.6"/>
<rect x="695.0" y="281.4" width="1.6" height="1.3" fill="#999" opacity="0.6"/>
<rect x="684.3" y="280.6" width="3.2" height="2.8" fill="#f08a2c" rx="1.4"/>
<text x="738.9" y="228.0" font-size="3.0" font-weight="700" fill="#222" text-anchor="middle">携程</text>
<rect x="717.4" y="230.2" width="24.2" height="54.2" fill="#f6f8fb" rx="0.8"/>
<rect x="718.9" y="231.4" width="3.0" height="0.6" fill="#666" opacity="0.6"/>
<rect x="726.4" y="231.2" width="5.0" height="0.7" fill="#6bc2b0" opacity="0.7"/>
<rect x="736.6" y="231.4" width="3.5" height="0.6" fill="#666" opacity="0.6"/>
<rect x="720.9" y="233.8" width="9.0" height="1.0" fill="#222" opacity="0.85"/>
<rect x="718.6" y="236.4" width="4.2" height="2.6" fill="#dff1f0" rx="0.5"/>
<rect x="724.0" y="237.0" width="2.6" height="1.0" fill="#5a7" opacity="0.45"/>
<rect x="728.6" y="237.0" width="2.6" height="1.0" fill="#5a7" opacity="0.45"/>
<rect x="733.2" y="237.0" width="2.6" height="1.0" fill="#5a7" opacity="0.45"/>
<rect x="737.8" y="237.0" width="2.6" height="1.0" fill="#5a7" opacity="0.45"/>
<rect x="719.0" y="240.2" width="2.8" height="0.6" fill="#778" opacity="0.6"/>
<rect x="723.6" y="240.2" width="2.8" height="0.6" fill="#778" opacity="0.6"/>
<rect x="728.2" y="240.2" width="2.8" height="0.6" fill="#778" opacity="0.6"/>
<rect x="732.8" y="240.2" width="2.8" height="0.6" fill="#778" opacity="0.6"/>
<rect x="737.4" y="240.2" width="2.8" height="0.6" fill="#778" opacity="0.6"/>
<rect x="718.4" y="242.8" width="10.4" height="12.0" fill="#ffffff"/>
<rect x="718.4" y="242.8" width="10.4" height="4.0" fill="#3d8fc9"/>
<rect x="719.4" y="248.2" width="5.0" height="0.8" fill="#445" opacity="0.7"/>
<rect x="719.4" y="250.5" width="5.0" height="0.8" fill="#445" opacity="0.7"/>
<rect x="719.4" y="252.8" width="5.0" height="0.8" fill="#445" opacity="0.7"/>
<rect x="729.3" y="242.8" width="11.3" height="11.0" fill="#37b7d6"/>
<rect x="730.6" y="244.6" width="8.4" height="5.4" fill="#8fe3ea"/>
<rect x="729.3" y="251.4" width="11.3" height="2.4" fill="#e8f3f2"/>
<rect x="729.8" y="254.8" width="7.0" height="0.8" fill="#334" opacity="0.75"/>
<rect x="729.8" y="256.4" width="5.0" height="0.6" fill="#e0803a" opacity="0.8"/>
<rect x="718.4" y="256.8" width="10.4" height="16.8" fill="#b5391f"/>
<rect x="719.2" y="257.8" width="2.2" height="2.0" fill="#d9694a" opacity="0.75"/>
<rect x="722.4" y="257.8" width="2.2" height="2.0" fill="#d9694a" opacity="0.75"/>
<rect x="725.6" y="257.8" width="2.2" height="2.0" fill="#d9694a" opacity="0.75"/>
<rect x="719.2" y="260.9" width="2.2" height="2.0" fill="#d9694a" opacity="0.75"/>
<rect x="722.4" y="260.9" width="2.2" height="2.0" fill="#d9694a" opacity="0.75"/>
<rect x="725.6" y="260.9" width="2.2" height="2.0" fill="#d9694a" opacity="0.75"/>
<rect x="719.2" y="264.0" width="2.2" height="2.0" fill="#d9694a" opacity="0.75"/>
<rect x="722.4" y="264.0" width="2.2" height="2.0" fill="#d9694a" opacity="0.75"/>
<rect x="725.6" y="264.0" width="2.2" height="2.0" fill="#d9694a" opacity="0.75"/>
<rect x="719.2" y="267.1" width="2.2" height="2.0" fill="#d9694a" opacity="0.75"/>
<rect x="722.4" y="267.1" width="2.2" height="2.0" fill="#d9694a" opacity="0.75"/>
<rect x="725.6" y="267.1" width="2.2" height="2.0" fill="#d9694a" opacity="0.75"/>
<rect x="719.2" y="270.2" width="2.2" height="2.0" fill="#d9694a" opacity="0.75"/>
<rect x="722.4" y="270.2" width="2.2" height="2.0" fill="#d9694a" opacity="0.75"/>
<rect x="725.6" y="270.2" width="2.2" height="2.0" fill="#d9694a" opacity="0.75"/>
<rect x="729.3" y="259.4" width="11.3" height="14.6" fill="#4fb4dd"/>
<rect x="730.6" y="261.2" width="8.4" height="10.0" fill="#a6e0f2" opacity="0.8"/>
<rect x="718.8" y="274.8" width="8.0" height="0.7" fill="#445" opacity="0.7"/>
<rect x="718.8" y="276.4" width="5.0" height="0.6" fill="#e0803a" opacity="0.8"/>
<rect x="729.8" y="275.2" width="8.0" height="0.7" fill="#445" opacity="0.7"/>
<rect x="718.4" y="278.8" width="22.2" height="1.0" fill="#667" opacity="0.45"/>
<rect x="717.4" y="280.8" width="24.2" height="3.6" fill="#4b5666"/>
<rect x="727.9" y="280.5" width="3.0" height="3.2" fill="#2f8fe8" rx="1.5"/>
<rect x="719.6" y="281.8" width="1.6" height="1.0" fill="#cfd4dc" opacity="0.7"/>
<rect x="724.2" y="281.8" width="1.6" height="1.0" fill="#cfd4dc" opacity="0.7"/>
<rect x="733.4" y="281.8" width="1.6" height="1.0" fill="#cfd4dc" opacity="0.7"/>
<rect x="738.0" y="281.8" width="1.6" height="1.0" fill="#cfd4dc" opacity="0.7"/>
<rect x="743.4" y="230.2" width="24.4" height="54.2" fill="#f6f8fb" rx="0.8"/>
<rect x="744.9" y="231.4" width="3.0" height="0.6" fill="#666" opacity="0.6"/>
<rect x="752.4" y="231.2" width="5.0" height="0.7" fill="#6bc2b0" opacity="0.7"/>
<rect x="762.8" y="231.4" width="3.5" height="0.6" fill="#666" opacity="0.6"/>
<rect x="746.9" y="233.8" width="9.0" height="1.0" fill="#222" opacity="0.85"/>
<rect x="744.6" y="236.4" width="4.2" height="2.6" fill="#dff1f0" rx="0.5"/>
<rect x="750.0" y="237.0" width="2.6" height="1.0" fill="#5a7" opacity="0.45"/>
<rect x="754.6" y="237.0" width="2.6" height="1.0" fill="#5a7" opacity="0.45"/>
<rect x="759.2" y="237.0" width="2.6" height="1.0" fill="#5a7" opacity="0.45"/>
<rect x="763.8" y="237.0" width="2.6" height="1.0" fill="#5a7" opacity="0.45"/>
<rect x="745.0" y="240.2" width="2.8" height="0.6" fill="#778" opacity="0.6"/>
<rect x="749.6" y="240.2" width="2.8" height="0.6" fill="#778" opacity="0.6"/>
<rect x="754.2" y="240.2" width="2.8" height="0.6" fill="#778" opacity="0.6"/>
<rect x="758.8" y="240.2" width="2.8" height="0.6" fill="#778" opacity="0.6"/>
<rect x="763.4" y="240.2" width="2.8" height="0.6" fill="#778" opacity="0.6"/>
<rect x="744.4" y="242.8" width="11.0" height="14.4" fill="#b5391f"/>
<rect x="745.2" y="243.8" width="2.3" height="2.1" fill="#d9694a" opacity="0.75"/>
<rect x="748.5" y="243.8" width="2.3" height="2.1" fill="#d9694a" opacity="0.75"/>
<rect x="751.8" y="243.8" width="2.3" height="2.1" fill="#d9694a" opacity="0.75"/>
<rect x="745.2" y="247.1" width="2.3" height="2.1" fill="#d9694a" opacity="0.75"/>
<rect x="748.5" y="247.1" width="2.3" height="2.1" fill="#d9694a" opacity="0.75"/>
<rect x="751.8" y="247.1" width="2.3" height="2.1" fill="#d9694a" opacity="0.75"/>
<rect x="745.2" y="250.4" width="2.3" height="2.1" fill="#d9694a" opacity="0.75"/>
<rect x="748.5" y="250.4" width="2.3" height="2.1" fill="#d9694a" opacity="0.75"/>
<rect x="751.8" y="250.4" width="2.3" height="2.1" fill="#d9694a" opacity="0.75"/>
<rect x="745.2" y="253.7" width="2.3" height="2.1" fill="#d9694a" opacity="0.75"/>
<rect x="748.5" y="253.7" width="2.3" height="2.1" fill="#d9694a" opacity="0.75"/>
<rect x="751.8" y="253.7" width="2.3" height="2.1" fill="#d9694a" opacity="0.75"/>
<rect x="755.9" y="242.8" width="10.9" height="14.4" fill="#3f8fc4"/>
<rect x="755.9" y="242.8" width="10.9" height="5.0" fill="#9ad0ee"/>
<rect x="757.4" y="249.2" width="8.0" height="6.0" fill="#2f6a98" opacity="0.8"/>
<rect x="744.8" y="258.2" width="8.0" height="0.7" fill="#445" opacity="0.7"/>
<rect x="756.4" y="258.2" width="8.0" height="0.7" fill="#445" opacity="0.7"/>
<rect x="744.8" y="259.8" width="5.0" height="0.6" fill="#e0803a" opacity="0.8"/>
<rect x="756.4" y="259.8" width="5.0" height="0.6" fill="#e0803a" opacity="0.8"/>
<rect x="744.4" y="262.6" width="11.0" height="14.6" fill="#d4d4d2"/>
<rect x="745.4" y="263.8" width="9.0" height="0.7" fill="#555" opacity="0.55"/>
<rect x="745.4" y="265.6" width="9.0" height="0.7" fill="#555" opacity="0.55"/>
<rect x="745.4" y="267.4" width="9.0" height="0.7" fill="#555" opacity="0.55"/>
<rect x="745.4" y="269.2" width="9.0" height="0.7" fill="#555" opacity="0.55"/>
<rect x="745.4" y="271.0" width="9.0" height="0.7" fill="#555" opacity="0.55"/>
<rect x="745.4" y="272.8" width="9.0" height="0.7" fill="#555" opacity="0.55"/>
<rect x="745.4" y="274.6" width="9.0" height="0.7" fill="#555" opacity="0.55"/>
<rect x="755.9" y="262.6" width="10.9" height="14.6" fill="#4d9ed2"/>
<rect x="756.6" y="263.4" width="4.4" height="3.8" fill="#86c8ea" opacity="0.9"/>
<rect x="756.6" y="268.0" width="4.4" height="3.8" fill="#86c8ea" opacity="0.9"/>
<rect x="756.6" y="272.6" width="4.4" height="3.8" fill="#2f7fb8" opacity="0.9"/>
<rect x="761.8" y="263.4" width="4.4" height="3.8" fill="#e8f4fa" opacity="0.9"/>
<rect x="761.8" y="268.0" width="4.4" height="3.8" fill="#2f7fb8" opacity="0.9"/>
<rect x="761.8" y="272.6" width="4.4" height="3.8" fill="#2f7fb8" opacity="0.9"/>
<rect x="744.4" y="278.8" width="22.4" height="1.0" fill="#667" opacity="0.45"/>
<rect x="743.4" y="280.8" width="24.4" height="3.6" fill="#4b5666"/>
<rect x="753.9" y="280.5" width="3.0" height="3.2" fill="#2f8fe8" rx="1.5"/>
<rect x="745.6" y="281.8" width="1.6" height="1.0" fill="#cfd4dc" opacity="0.7"/>
<rect x="750.2" y="281.8" width="1.6" height="1.0" fill="#cfd4dc" opacity="0.7"/>
<rect x="759.4" y="281.8" width="1.6" height="1.0" fill="#cfd4dc" opacity="0.7"/>
<rect x="764.0" y="281.8" width="1.6" height="1.0" fill="#cfd4dc" opacity="0.7"/>
<text x="792.8" y="228.0" font-size="3.0" font-weight="700" fill="#222" text-anchor="middle">去哪儿</text>
<rect x="781.6" y="230.2" width="24.2" height="54.2" fill="#ffffff" rx="0.8"/>
<rect x="783.1" y="231.4" width="3.0" height="0.6" fill="#666" opacity="0.6"/>
<rect x="800.8" y="231.4" width="3.5" height="0.6" fill="#666" opacity="0.6"/>
<rect x="782.8" y="233.6" width="1.2" height="1.2" fill="#555" opacity="0.7"/>
<rect x="785.6" y="233.4" width="16.0" height="1.8" fill="#eef2f5" rx="0.9"/>
<rect x="787.6" y="234.0" width="7.0" height="0.6" fill="#778" opacity="0.7"/>
<rect x="783.2" y="237.0" width="2.8" height="0.9" fill="#555" opacity="0.75"/>
<rect x="787.8" y="237.0" width="2.8" height="0.9" fill="#555" opacity="0.75"/>
<rect x="792.4" y="237.0" width="2.8" height="0.9" fill="#31c3c0" opacity="0.75"/>
<rect x="797.0" y="237.0" width="2.8" height="0.9" fill="#555" opacity="0.75"/>
<rect x="801.6" y="237.0" width="2.8" height="0.9" fill="#555" opacity="0.75"/>
<rect x="782.8" y="239.6" width="3.4" height="1.4" fill="#e6f6f6" rx="0.4"/>
<rect x="787.6" y="239.8" width="3.0" height="0.8" fill="#778" opacity="0.6"/>
<rect x="800.8" y="239.8" width="3.0" height="0.8" fill="#778" opacity="0.6"/>
<rect x="782.4" y="242.8" width="11.6" height="15.0" fill="#4c87bd"/>
<rect x="782.4" y="242.8" width="11.6" height="5.0" fill="#a8cdea"/>
<rect x="783.8" y="247.0" width="4.2" height="10.8" fill="#2d5684"/>
<rect x="789.2" y="249.4" width="3.4" height="8.4" fill="#d8e4ee" opacity="0.8"/>
<rect x="794.4" y="242.8" width="10.8" height="15.0" fill="#4a4d52"/>
<rect x="795.4" y="244.0" width="8.6" height="0.8" fill="#c9ccd1" opacity="0.65"/>
<rect x="795.4" y="245.9" width="8.6" height="0.8" fill="#c9ccd1" opacity="0.65"/>
<rect x="795.4" y="247.8" width="8.6" height="0.8" fill="#c9ccd1" opacity="0.65"/>
<rect x="795.4" y="249.7" width="8.6" height="0.8" fill="#c9ccd1" opacity="0.65"/>
<rect x="795.4" y="251.6" width="8.6" height="0.8" fill="#c9ccd1" opacity="0.65"/>
<rect x="795.4" y="253.5" width="8.6" height="0.8" fill="#c9ccd1" opacity="0.65"/>
<rect x="795.4" y="255.4" width="8.6" height="0.8" fill="#c9ccd1" opacity="0.65"/>
<rect x="782.6" y="258.8" width="10.0" height="0.9" fill="#222" opacity="0.85"/>
<rect x="782.6" y="260.6" width="8.0" height="0.9" fill="#222" opacity="0.85"/>
<rect x="794.8" y="258.8" width="9.0" height="0.7" fill="#445" opacity="0.75"/>
<rect x="794.8" y="260.4" width="6.0" height="0.7" fill="#445" opacity="0.75"/>
<rect x="794.8" y="262.6" width="1.4" height="1.4" fill="#99a" opacity="0.6"/>
<rect x="782.4" y="263.4" width="11.6" height="2.0" fill="#fbe9a8"/>
<path d="M782.8 266.95h10.3M782.8 268.50h10.6M782.8 270.05h10.0M782.8 271.60h10.0M782.8 273.15h9.9M782.8 274.70h9.6M782.8 276.25h9.9M782.8 277.80h6.0" stroke="#444" stroke-width="0.7" stroke-dasharray="1.13 0.44 0.75 0.40" opacity="0.49" fill="none"/>
<path d="M794.8 266.15h9.1M794.8 267.70h9.8M794.8 269.25h4.8" stroke="#444" stroke-width="0.7" stroke-dasharray="1.36 0.35 0.95 0.32" opacity="0.41" fill="none"/>
<rect x="782.6" y="279.6" width="9.0" height="0.7" fill="#778" opacity="0.6"/>
<rect x="789.6" y="281.4" width="15.0" height="1.1" fill="#222" opacity="0.85"/>
<text x="865.2" y="228.0" font-size="3.0" font-weight="700" fill="#222" text-anchor="middle">飞猪</text>
<rect x="814.2" y="232.4" width="23.6" height="51.8" fill="#ffffff" rx="0.8"/>
<rect x="814.2" y="232.4" width="23.6" height="5.4" fill="#fbe78a" rx="0.8"/>
<rect x="815.7" y="233.4" width="3.0" height="0.6" fill="#665" opacity="0.6"/>
<rect x="832.8" y="233.4" width="3.5" height="0.6" fill="#5a4" opacity="0.6"/>
<rect x="816.2" y="235.2" width="3.8" height="1.5" fill="#8a7a20" opacity="0.6"/>
<rect x="821.2" y="235.2" width="4.4" height="1.5" fill="#8a7a20" opacity="0.6"/>
<rect x="814.2" y="237.8" width="23.6" height="10.6" fill="#3f8f9c"/>
<rect x="814.2" y="237.8" width="23.6" height="4.2" fill="#7fb4c4"/>
<rect x="814.2" y="243.6" width="23.6" height="2.2" fill="#2d6f86" opacity="0.8"/>
<rect x="815.8" y="249.8" width="2.9" height="2.9" fill="#5fd0c8" rx="1.45"/>
<rect x="816.8" y="252.4" width="0.9" height="1.6" fill="#5fd0c8" opacity="0.7"/>
<rect x="820.1" y="249.8" width="2.9" height="2.9" fill="#58b7e8" rx="1.45"/>
<rect x="821.1" y="252.4" width="0.9" height="1.6" fill="#58b7e8" opacity="0.7"/>
<rect x="824.4" y="249.8" width="2.9" height="2.9" fill="#b59af0" rx="1.45"/>
<rect x="825.4" y="252.4" width="0.9" height="1.6" fill="#b59af0" opacity="0.7"/>
<rect x="828.7" y="249.8" width="2.9" height="2.9" fill="#f6c451" rx="1.45"/>
<rect x="829.7" y="252.4" width="0.9" height="1.6" fill="#f6c451" opacity="0.7"/>
<rect x="833.0" y="249.8" width="2.9" height="2.9" fill="#8aa6f2" rx="1.45"/>
<rect x="834.0" y="252.4" width="0.9" height="1.6" fill="#8aa6f2" opacity="0.7"/>
<rect x="815.7" y="255.0" width="3.0" height="0.5" fill="#889" opacity="0.5"/>
<rect x="820.0" y="255.0" width="3.0" height="0.5" fill="#889" opacity="0.5"/>
<rect x="824.3" y="255.0" width="3.0" height="0.5" fill="#889" opacity="0.5"/>
<rect x="828.6" y="255.0" width="3.0" height="0.5" fill="#889" opacity="0.5"/>
<rect x="832.9" y="255.0" width="3.0" height="0.5" fill="#889" opacity="0.5"/>
<rect x="814.8" y="256.8" width="22.4" height="4.6" fill="#f0602a" rx="0.5"/>
<rect x="824.8" y="256.8" width="12.5" height="4.6" fill="#f6b04a" rx="0.5"/>
<rect x="815.8" y="257.8" width="7.0" height="1.0" fill="#fff3e0" opacity="0.8"/>
<rect x="831.4" y="257.4" width="5.0" height="3.4" fill="#fde2a8" opacity="0.8"/>
<rect x="815.8" y="263.4" width="6.0" height="0.9" fill="#222" opacity="0.85"/>
<rect x="815.8" y="266.8" width="6.2" height="0.8" fill="#333" opacity="0.8"/>
<rect x="822.8" y="266.8" width="6.0" height="0.8" fill="#333" opacity="0.8"/>
<rect x="831.6" y="266.0" width="4.8" height="3.6" fill="#4a56c8" rx="0.3"/>
<rect x="832.6" y="266.8" width="2.4" height="1.8" fill="#f0d890" opacity="0.45"/>
<rect x="815.8" y="271.2" width="6.2" height="0.8" fill="#333" opacity="0.8"/>
<rect x="822.8" y="271.2" width="6.0" height="0.8" fill="#333" opacity="0.8"/>
<rect x="831.6" y="270.4" width="4.8" height="3.6" fill="#c8672a" rx="0.3"/>
<rect x="832.6" y="271.2" width="2.4" height="1.8" fill="#f0d890" opacity="0.45"/>
<rect x="815.8" y="275.6" width="6.2" height="0.8" fill="#333" opacity="0.8"/>
<rect x="822.8" y="275.6" width="6.0" height="0.8" fill="#333" opacity="0.8"/>
<rect x="831.6" y="274.8" width="4.8" height="3.6" fill="#6b7a2a" rx="0.3"/>
<rect x="832.6" y="275.6" width="2.4" height="1.8" fill="#f0d890" opacity="0.45"/>
<rect x="824.2" y="280.2" width="4.0" height="0.6" fill="#8cc" opacity="0.6"/>
<rect x="815.6" y="282.8" width="3.0" height="0.7" fill="#778" opacity="0.6"/>
<rect x="820.7" y="282.8" width="9.0" height="0.7" fill="#556" opacity="0.7"/>
<rect x="840.0" y="232.4" width="23.7" height="51.8" fill="#ffffff" rx="0.8"/>
<rect x="840.0" y="232.4" width="23.7" height="5.4" fill="#fbe78a" rx="0.8"/>
<rect x="841.5" y="233.4" width="3.0" height="0.6" fill="#665" opacity="0.6"/>
<rect x="858.7" y="233.4" width="3.5" height="0.6" fill="#5a4" opacity="0.6"/>
<rect x="842.0" y="235.2" width="3.8" height="1.5" fill="#8a7a20" opacity="0.6"/>
<rect x="847.0" y="235.2" width="4.4" height="1.5" fill="#8a7a20" opacity="0.6"/>
<rect x="840.0" y="237.8" width="23.7" height="10.6" fill="#5f6e55"/>
<rect x="840.0" y="237.8" width="23.7" height="4.2" fill="#9ab0b8"/>
<rect x="840.0" y="243.6" width="23.7" height="2.2" fill="#3f4d3a" opacity="0.8"/>
<rect x="841.6" y="249.8" width="2.9" height="2.9" fill="#5fd0c8" rx="1.45"/>
<rect x="842.6" y="252.4" width="0.9" height="1.6" fill="#5fd0c8" opacity="0.7"/>
<rect x="845.9" y="249.8" width="2.9" height="2.9" fill="#58b7e8" rx="1.45"/>
<rect x="846.9" y="252.4" width="0.9" height="1.6" fill="#58b7e8" opacity="0.7"/>
<rect x="850.2" y="249.8" width="2.9" height="2.9" fill="#b59af0" rx="1.45"/>
<rect x="851.2" y="252.4" width="0.9" height="1.6" fill="#b59af0" opacity="0.7"/>
<rect x="854.5" y="249.8" width="2.9" height="2.9" fill="#f6c451" rx="1.45"/>
<rect x="855.5" y="252.4" width="0.9" height="1.6" fill="#f6c451" opacity="0.7"/>
<rect x="858.8" y="249.8" width="2.9" height="2.9" fill="#8aa6f2" rx="1.45"/>
<rect x="859.8" y="252.4" width="0.9" height="1.6" fill="#8aa6f2" opacity="0.7"/>
<rect x="841.5" y="255.0" width="3.0" height="0.5" fill="#889" opacity="0.5"/>
<rect x="845.8" y="255.0" width="3.0" height="0.5" fill="#889" opacity="0.5"/>
<rect x="850.1" y="255.0" width="3.0" height="0.5" fill="#889" opacity="0.5"/>
<rect x="854.4" y="255.0" width="3.0" height="0.5" fill="#889" opacity="0.5"/>
<rect x="858.7" y="255.0" width="3.0" height="0.5" fill="#889" opacity="0.5"/>
<rect x="840.6" y="256.8" width="22.5" height="4.6" fill="#f0602a" rx="0.5"/>
<rect x="850.7" y="256.8" width="12.6" height="4.6" fill="#f6b04a" rx="0.5"/>
<rect x="841.6" y="257.8" width="7.0" height="1.0" fill="#fff3e0" opacity="0.8"/>
<rect x="857.3" y="257.4" width="5.0" height="3.4" fill="#fde2a8" opacity="0.8"/>
<rect x="841.6" y="263.4" width="6.0" height="0.9" fill="#222" opacity="0.85"/>
<rect x="841.6" y="266.8" width="6.2" height="0.8" fill="#333" opacity="0.8"/>
<rect x="848.6" y="266.8" width="6.0" height="0.8" fill="#333" opacity="0.8"/>
<rect x="857.5" y="266.0" width="4.8" height="3.6" fill="#4a56c8" rx="0.3"/>
<rect x="858.5" y="266.8" width="2.4" height="1.8" fill="#f0d890" opacity="0.45"/>
<rect x="841.6" y="271.2" width="6.2" height="0.8" fill="#333" opacity="0.8"/>
<rect x="848.6" y="271.2" width="6.0" height="0.8" fill="#333" opacity="0.8"/>
<rect x="857.5" y="270.4" width="4.8" height="3.6" fill="#c8672a" rx="0.3"/>
<rect x="858.5" y="271.2" width="2.4" height="1.8" fill="#f0d890" opacity="0.45"/>
<rect x="841.6" y="275.6" width="6.2" height="0.8" fill="#333" opacity="0.8"/>
<rect x="848.6" y="275.6" width="6.0" height="0.8" fill="#333" opacity="0.8"/>
<rect x="857.5" y="274.8" width="4.8" height="3.6" fill="#6b7a2a" rx="0.3"/>
<rect x="858.5" y="275.6" width="2.4" height="1.8" fill="#f0d890" opacity="0.45"/>
<rect x="850.0" y="280.2" width="4.0" height="0.6" fill="#8cc" opacity="0.6"/>
<rect x="841.4" y="282.8" width="3.0" height="0.7" fill="#778" opacity="0.6"/>
<rect x="846.5" y="282.8" width="9.0" height="0.7" fill="#556" opacity="0.7"/>
<rect x="865.8" y="232.4" width="24.2" height="51.8" fill="#ffffff" rx="0.8"/>
<rect x="865.8" y="232.4" width="24.2" height="10.8" fill="#1f7fc2" rx="0.8"/>
<rect x="865.8" y="232.4" width="24.2" height="3.4" fill="#2b62a8" rx="0.8"/>
<rect x="865.8" y="239.2" width="24.2" height="4.0" fill="#1a93b8"/>
<rect x="868.8" y="237.0" width="17.2" height="1.4" fill="#7fe0d8" opacity="0.75"/>
<rect x="874.8" y="235.8" width="9.0" height="1.1" fill="#b8f0ea" opacity="0.6"/>
<rect x="867.3" y="240.4" width="6.0" height="0.8" fill="#e8f6ff" opacity="0.8"/>
<rect x="883.0" y="240.6" width="5.5" height="1.4" fill="#e8f6ff" rx="0.7" opacity="0.85"/>
<rect x="866.8" y="244.0" width="5.4" height="1.7" fill="#f6d84a" rx="0.3"/>
<rect x="873.2" y="244.4" width="2.2" height="0.9" fill="#556" opacity="0.7"/>
<rect x="876.6" y="244.4" width="2.2" height="0.9" fill="#556" opacity="0.7"/>
<rect x="880.0" y="244.4" width="2.2" height="0.9" fill="#556" opacity="0.7"/>
<rect x="883.4" y="244.4" width="2.2" height="0.9" fill="#556" opacity="0.7"/>
<rect x="886.8" y="244.4" width="2.2" height="0.9" fill="#556" opacity="0.7"/>
<rect x="867.2" y="247.8" width="4.0" height="0.7" fill="#333" opacity="0.8"/>
<rect x="867.8" y="249.8" width="8.6" height="1.9" fill="#f3f4f7" rx="0.4"/>
<rect x="878.2" y="249.8" width="8.6" height="1.9" fill="#f3f4f7" rx="0.4"/>
<rect x="868.8" y="250.4" width="6.0" height="0.7" fill="#445" opacity="0.75"/>
<rect x="879.2" y="250.4" width="6.0" height="0.7" fill="#445" opacity="0.75"/>
<rect x="867.8" y="252.8" width="8.6" height="1.9" fill="#f3f4f7" rx="0.4"/>
<rect x="878.2" y="252.8" width="8.6" height="1.9" fill="#f3f4f7" rx="0.4"/>
<rect x="868.8" y="253.4" width="6.0" height="0.7" fill="#445" opacity="0.75"/>
<rect x="879.2" y="253.4" width="6.0" height="0.7" fill="#445" opacity="0.75"/>
<rect x="867.2" y="256.6" width="2.2" height="0.8" fill="#222" opacity="0.85"/>
<rect x="867.8" y="258.8" width="7.0" height="1.0" fill="#222" opacity="0.8"/>
<rect x="867.8" y="260.8" width="9.0" height="0.7" fill="#889" opacity="0.6"/>
<rect x="878.2" y="260.6" width="5.0" height="0.9" fill="#99a" opacity="0.6"/>
<rect x="885.8" y="260.4" width="2.4" height="1.4" fill="#445" opacity="0.7"/>
<rect x="867.2" y="263.0" width="21.4" height="0.3" fill="#dde" opacity="0.9"/>
<rect x="867.8" y="266.8" width="7.0" height="0.9" fill="#889" opacity="0.55"/>
<rect x="867.2" y="270.2" width="5.0" height="0.8" fill="#222" opacity="0.8"/>
<rect x="867.8" y="272.8" width="6.0" height="0.9" fill="#99a" opacity="0.6"/>
<rect x="878.8" y="272.8" width="5.0" height="0.9" fill="#99a" opacity="0.6"/>
<rect x="867.2" y="277.0" width="4.0" height="0.8" fill="#222" opacity="0.8"/>
<rect x="866.2" y="279.6" width="23.4" height="4.0" fill="#d9902a" rx="0.3"/>
<rect x="866.8" y="280.3" width="3.3" height="1.8" fill="#a85f1c" opacity="0.85"/>
<rect x="870.7" y="280.8" width="3.2" height="2.4" fill="#f0a83a" opacity="0.85"/>
<rect x="874.6" y="280.4" width="2.8" height="2.2" fill="#7a4a1a" opacity="0.85"/>
<rect x="878.5" y="280.7" width="2.1" height="1.7" fill="#a85f1c" opacity="0.85"/>
<rect x="882.4" y="280.4" width="2.1" height="2.7" fill="#f3c25a" opacity="0.85"/>
<rect x="886.3" y="280.8" width="2.1" height="2.6" fill="#f3c25a" opacity="0.85"/>
<rect x="892.0" y="232.4" width="23.9" height="51.8" fill="#ffffff" rx="0.8"/>
<rect x="892.0" y="232.4" width="23.9" height="10.8" fill="#1f7fc2" rx="0.8"/>
<rect x="892.0" y="232.4" width="23.9" height="3.4" fill="#2b62a8" rx="0.8"/>
<rect x="892.0" y="239.2" width="23.9" height="4.0" fill="#1a93b8"/>
<rect x="895.0" y="237.0" width="16.9" height="1.4" fill="#7fe0d8" opacity="0.75"/>
<rect x="901.0" y="235.8" width="9.0" height="1.1" fill="#b8f0ea" opacity="0.6"/>
<rect x="893.5" y="240.4" width="6.0" height="0.8" fill="#e8f6ff" opacity="0.8"/>
<rect x="908.9" y="240.6" width="5.5" height="1.4" fill="#e8f6ff" rx="0.7" opacity="0.85"/>
<rect x="893.0" y="244.0" width="5.4" height="1.7" fill="#f6d84a" rx="0.3"/>
<rect x="899.4" y="244.4" width="2.2" height="0.9" fill="#556" opacity="0.7"/>
<rect x="902.8" y="244.4" width="2.2" height="0.9" fill="#556" opacity="0.7"/>
<rect x="906.2" y="244.4" width="2.2" height="0.9" fill="#556" opacity="0.7"/>
<rect x="909.6" y="244.4" width="2.2" height="0.9" fill="#556" opacity="0.7"/>
<rect x="913.0" y="244.4" width="2.2" height="0.9" fill="#556" opacity="0.7"/>
<rect x="893.4" y="247.8" width="4.0" height="0.7" fill="#333" opacity="0.8"/>
<rect x="894.0" y="249.8" width="8.6" height="1.9" fill="#f3f4f7" rx="0.4"/>
<rect x="904.4" y="249.8" width="8.6" height="1.9" fill="#f3f4f7" rx="0.4"/>
<rect x="895.0" y="250.4" width="6.0" height="0.7" fill="#445" opacity="0.75"/>
<rect x="905.4" y="250.4" width="6.0" height="0.7" fill="#445" opacity="0.75"/>
<rect x="894.0" y="252.8" width="8.6" height="1.9" fill="#f3f4f7" rx="0.4"/>
<rect x="904.4" y="252.8" width="8.6" height="1.9" fill="#f3f4f7" rx="0.4"/>
<rect x="895.0" y="253.4" width="6.0" height="0.7" fill="#445" opacity="0.75"/>
<rect x="905.4" y="253.4" width="6.0" height="0.7" fill="#445" opacity="0.75"/>
<rect x="893.4" y="256.6" width="2.2" height="0.8" fill="#222" opacity="0.85"/>
<rect x="894.0" y="258.8" width="7.0" height="1.0" fill="#222" opacity="0.8"/>
<rect x="894.0" y="260.8" width="9.0" height="0.7" fill="#889" opacity="0.6"/>
<rect x="904.4" y="260.6" width="5.0" height="0.9" fill="#99a" opacity="0.6"/>
<rect x="911.7" y="260.4" width="2.4" height="1.4" fill="#445" opacity="0.7"/>
<rect x="893.4" y="263.0" width="21.1" height="0.3" fill="#dde" opacity="0.9"/>
<rect x="894.0" y="266.8" width="7.0" height="0.9" fill="#889" opacity="0.55"/>
<rect x="893.4" y="270.2" width="5.0" height="0.8" fill="#222" opacity="0.8"/>
<rect x="894.0" y="272.8" width="6.0" height="0.9" fill="#99a" opacity="0.6"/>
<rect x="905.0" y="272.8" width="5.0" height="0.9" fill="#99a" opacity="0.6"/>
<rect x="893.4" y="277.0" width="4.0" height="0.8" fill="#222" opacity="0.8"/>
<rect x="892.4" y="279.6" width="23.1" height="4.0" fill="#d9902a" rx="0.3"/>
<rect x="893.0" y="280.3" width="2.2" height="1.6" fill="#7a4a1a" opacity="0.85"/>
<rect x="896.9" y="280.9" width="2.4" height="1.8" fill="#a85f1c" opacity="0.85"/>
<rect x="900.8" y="280.9" width="3.4" height="1.9" fill="#a85f1c" opacity="0.85"/>
<rect x="904.7" y="280.2" width="2.4" height="2.0" fill="#a85f1c" opacity="0.85"/>
<rect x="908.6" y="280.3" width="2.7" height="1.8" fill="#f0a83a" opacity="0.85"/>
<rect x="912.5" y="280.8" width="3.4" height="1.6" fill="#f3c25a" opacity="0.85"/>
</svg>

<!-- arrows -->
<svg class="abs" style="left:268px;top:314px;" width="30" height="40" viewBox="0 0 30 40">
  <defs><linearGradient id="ga" x1="0" y1="0" x2="0" y2="1"><stop offset="0" stop-color="#d6ccfb" stop-opacity="0"/><stop offset=".22" stop-color="#d2cafb" stop-opacity=".85"/><stop offset=".55" stop-color="#b2bff7"/><stop offset="1" stop-color="#63d3f6"/></linearGradient></defs>
  <path d="M9.3 3 H20.3 V21 H24.3 L14.8 37.1 L5.5 21 H9.3 Z" fill="url(#ga)"/>
</svg>
<svg class="abs" style="left:777px;top:320px;" width="30" height="40" viewBox="0 0 30 40">
  <path d="M8.6 2 H20.1 V20.6 H23.9 L14.5 37.1 L5.0 20.6 H8.6 Z" fill="url(#ga)"/>
</svg>

<div class="title" style="left:182.8px;width:200px;top:355.7px;">痛点</div>
<div class="title" style="left:693.3px;width:200px;top:354.5px;">竞品总结</div>

<div class="card bot" style="left:42.6px;top:398.3px;width:478.7px;height:175px;"></div>
<div class="card bot" style="left:553.3px;top:398.3px;width:469.5px;height:175px;box-shadow:0 .5px 4.5px 0 rgba(110,120,248,.62);"></div>

<div class="p" style="left:58.6px;top:426.1px;">通过用户访谈，我们发现用户在使用百度搜索推荐的综合攻略以及其他竞品搜索结果时，经常遇到一<br>个问题，即：<b>并非每一次搜索都会得到完全符合他们期望的结果。</b></div>
<div class="p" style="left:58.6px;top:472.2px;">另外，当用户查看不同攻略（从百度搜索推荐攻略到携程攻略）时，他们可能会在不同文章中找到各<br>自感兴趣的地点（景点、活动、美食等）。然而，用户发现将每个感兴趣的地点单独保存非常不便。<br>因此，<b>用户希望有一个功能，可以将所有感兴趣的地点集中保存下来。</b></div>
<div class="p" style="left:58.6px;top:530.3px;">此外，用户也表达了他们希望知道<b>这些感兴趣地点之间的距离以及如何在有限的时间内安排这些地方</b></div>

<div class="p" style="left:569.2px;top:430.1px;"><b>直接竞品 <u>-</u>- 其他的AI搜索软件</b></div>
<div class="p" style="left:569.2px;top:447.0px;">竞品与百度搜索的不同之处在于，当搜索<s>“</s>三亚旅游攻略<s>”</s>时，竞品未提供个性化定制的回答，而百度<br>则提供了这一功能。而此次的改版设计进一步增强了百度的个性化回答功能</div>
<div class="p" style="left:569.2px;top:510.7px;"><b>间接竞品 <u>-</u>- 旅游攻略平台</b></div>
<div class="p" style="left:569.2px;top:527.7px;">用来了解用户在寻找旅游攻略的时候喜欢关注什么内容。</div>

</body>
</html>
